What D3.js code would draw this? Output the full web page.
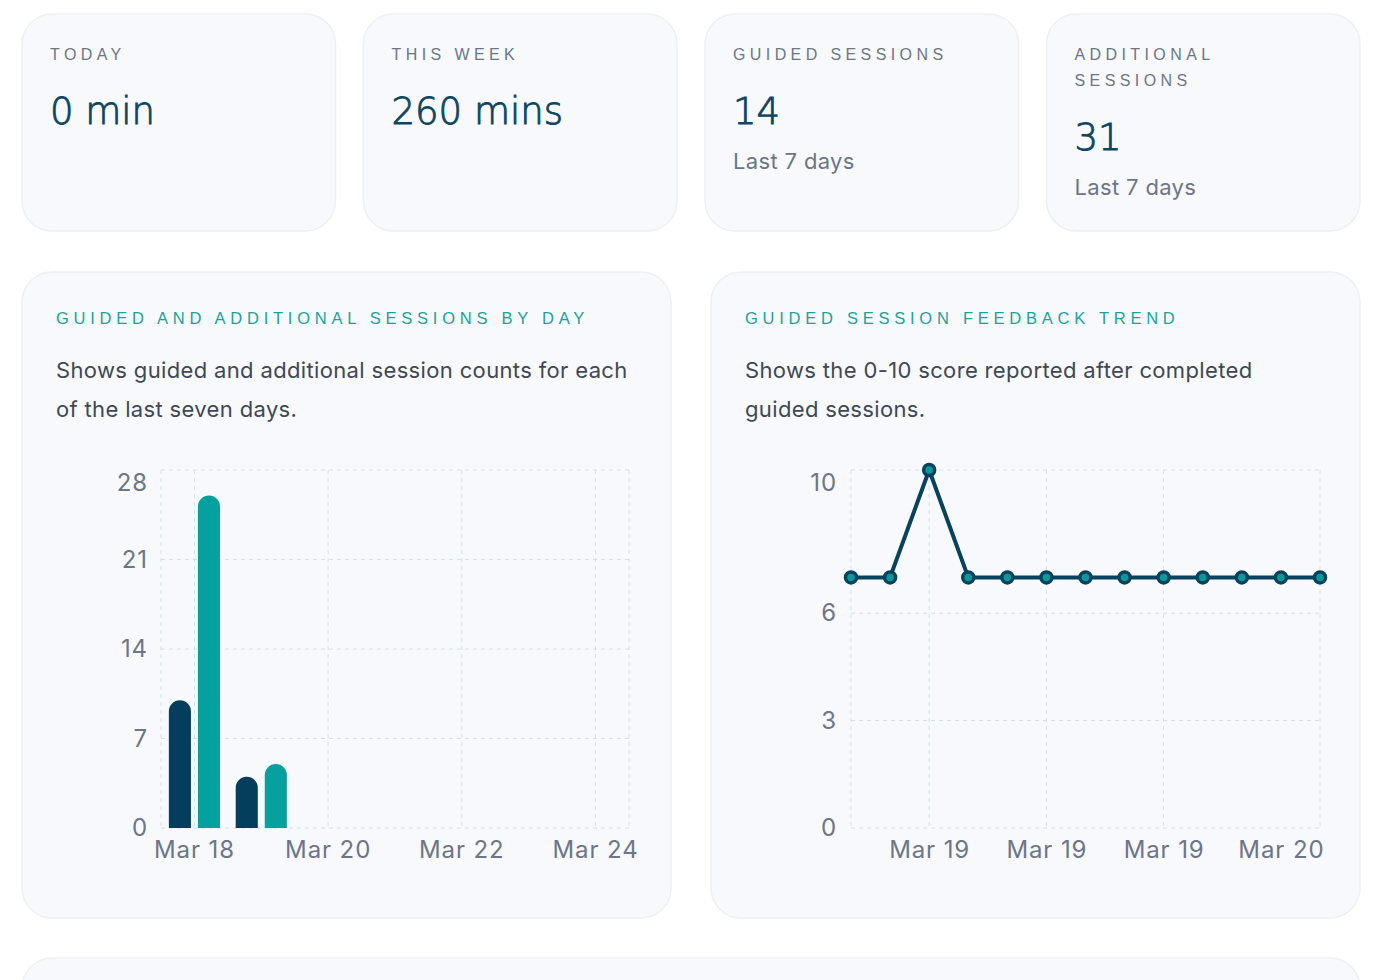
<!DOCTYPE html>
<html>
<head>
<meta charset="utf-8">
<script src="https://cdn.jsdelivr.net/npm/d3@7"></script>
<style>
  body { margin: 0; background: #ffffff; }
  svg { display: block; }
  .cap { font-family: "Liberation Sans", Arial, sans-serif; }
  .body { font-family: Inter, "Noto Sans", sans-serif; }
  .tick text { font-family: Inter, "Noto Sans", sans-serif; font-size: 24px; letter-spacing: 0.9px; fill: #6b7689; }
</style>
</head>
<body>
<div id="page"></div>
<script>
// stat cards
var statLabels = [["TODAY"], ["THIS WEEK"], ["GUIDED SESSIONS"], ["ADDITIONAL", "SESSIONS"]];
var statValues = ["0 min", "260 mins", "14", "31"];
var statNotes = ["", "", "Last 7 days", "Last 7 days"];

// sessions by day
var days = ["Mar 18", "Mar 19", "Mar 20", "Mar 21", "Mar 22", "Mar 23", "Mar 24"];
var seriesNames = ["guided", "additional"];
var guidedByDay = [10, 4, 0, 0, 0, 0, 0];
var additionalByDay = [26, 5, 0, 0, 0, 0, 0];
var dayTickLabels = ["Mar 18", "Mar 20", "Mar 22", "Mar 24"];
var countTicks = [0, 7, 14, 21, 28];

// feedback trend
var feedbackDates = ["Mar 18", "Mar 18", "Mar 19", "Mar 19", "Mar 19", "Mar 19", "Mar 19",
  "Mar 19", "Mar 19", "Mar 19", "Mar 20", "Mar 20", "Mar 20"];
var feedbackScores = [7, 7, 10, 7, 7, 7, 7, 7, 7, 7, 7, 7, 7];
var feedbackTickIdx = [2, 5, 8, 11];
var scoreTicks = [0, 3, 6, 10];

var chartTitles = ["Guided and additional sessions by day", "Guided session feedback trend"];
var chartDescs = [
  ["Shows guided and additional session counts for each", "of the last seven days."],
  ["Shows the 0-10 score reported after completed", "guided sessions."]
];

var navy = "#033f5c";
var teal = "#04a19e";
var gridColor = "#d2e2e5";

var svg = d3.select("#page").append("svg")
  .attr("width", 1400)
  .attr("height", 980);

function card(x, y, w, h) {
  svg.append("rect")
    .attr("x", x).attr("y", y)
    .attr("width", w).attr("height", h)
    .attr("rx", 30).attr("ry", 30)
    .attr("fill", "#f8f9fc")
    .attr("stroke", "#eef0f5")
    .attr("stroke-width", 1.5);
}

// top stat cards
var cardW = 313.5, cardGap = 28;
statValues.forEach(function(v, i) {
  var cx = 22 + i * (cardW + cardGap);
  card(cx, 14, cardW, 217);
  var g = svg.append("g").attr("transform", `translate(${cx + 28}, 0)`);
  statLabels[i].forEach(function(line, j) {
    g.append("text")
      .attr("class", "cap")
      .attr("y", 60 + j * 26)
      .attr("font-size", 16)
      .attr("letter-spacing", "4.4px")
      .attr("fill", "#6b7689")
      .text(line);
  });
  var shift = (statLabels[i].length - 1) * 26;
  // thin face thickened a little with a stroke
  g.append("text")
    .attr("y", 124 + shift)
    .attr("font-family", "'DejaVu Sans', sans-serif")
    .attr("font-weight", 200)
    .attr("font-size", 37)
    .attr("fill", "#0c4664")
    .attr("stroke", "#0c4664")
    .attr("stroke-width", 0.9)
    .text(v);
  if (statNotes[i]) {
    g.append("text")
      .attr("class", "body")
      .attr("y", 169 + shift)
      .attr("font-size", 22)
      .attr("letter-spacing", "0.35px")
      .attr("fill", "#6b7689")
      .text(statNotes[i]);
  }
});

// chart cards
var chartX = [22, 711];
chartX.forEach(function(cx, i) {
  card(cx, 272, 649, 646);
  svg.append("text")
    .attr("class", "cap")
    .attr("x", cx + 34).attr("y", 324)
    .attr("font-size", 16.5)
    .attr("letter-spacing", "4.75px")
    .attr("fill", "#17a39f")
    .text(chartTitles[i].toUpperCase());
  chartDescs[i].forEach(function(line, j) {
    svg.append("text")
      .attr("class", "body")
      .attr("x", cx + 34).attr("y", 378 + j * 39)
      .attr("font-size", 22)
      .attr("letter-spacing", "0.35px")
      .attr("fill", "#3e4857")
      .text(line);
  });
});

// bottom card, cut by the page edge
card(22, 958, 1338, 200);

// ---------- bar chart ----------
var plotTop = 470, plotBottom = 828;

var barG = svg.append("g");
var x0 = d3.scaleBand().domain(days).range([161, 629]);
var x1 = d3.scaleBand().domain(seriesNames).range([0, x0.bandwidth()])
  .paddingInner(0.24).paddingOuter(0.27);
var yCount = d3.scaleLinear().domain([0, 28]).range([plotBottom, plotTop]);

// grid
barG.selectAll(".hgrid").data(countTicks).enter().append("line")
  .attr("x1", 161).attr("x2", 629)
  .attr("y1", d => yCount(d)).attr("y2", d => yCount(d))
  .attr("stroke", gridColor).attr("stroke-dasharray", "4 4");
var barVLines = [161, 629].concat(dayTickLabels.map(d => x0(d) + x0.bandwidth() / 2));
barG.selectAll(".vgrid").data(barVLines).enter().append("line")
  .attr("x1", d => d).attr("x2", d => d)
  .attr("y1", plotTop).attr("y2", plotBottom)
  .attr("stroke", gridColor).attr("stroke-dasharray", "4 4");

function topRounded(x, y, w, h) {
  if (h <= 0) return "";
  var r = Math.min(w / 2, h);
  return `M${x},${y + h}V${y + r}A${r},${r} 0 0 1 ${x + r},${y}` +
    `H${x + w - r}A${r},${r} 0 0 1 ${x + w},${y + r}V${y + h}Z`;
}

var dayData = days.map(function(d, i) {
  return { day: d, guided: guidedByDay[i], additional: additionalByDay[i] };
});

var dayGroups = barG.selectAll(".day").data(dayData).enter().append("g")
  .attr("transform", d => `translate(${x0(d.day)},0)`);
dayGroups.selectAll("path")
  .data(d => seriesNames.map(k => ({ key: k, value: d[k] })))
  .enter().append("path")
  .attr("d", d => topRounded(x1(d.key), yCount(d.value), x1.bandwidth(), plotBottom - yCount(d.value)))
  .attr("fill", d => d.key === "guided" ? navy : teal);

var barYAxis = barG.append("g")
  .attr("transform", "translate(161,0)")
  .call(d3.axisLeft(yCount).tickValues(countTicks).tickSize(0).tickPadding(13));
barYAxis.select(".domain").remove();
barYAxis.selectAll(".tick text").filter(d => d === 28).attr("dy", "0.85em");

var barXAxis = barG.append("g")
  .attr("transform", `translate(0,${plotBottom})`)
  .call(d3.axisBottom(x0).tickValues(dayTickLabels).tickSize(0).tickPadding(13));
barXAxis.select(".domain").remove();

// ---------- line chart ----------
var lineG = svg.append("g");
var xPt = d3.scalePoint().domain(d3.range(feedbackScores.length)).range([851, 1320]);
var yScore = d3.scaleLinear().domain([0, 10]).range([plotBottom, plotTop]);

lineG.selectAll(".hgrid").data(scoreTicks).enter().append("line")
  .attr("x1", 851).attr("x2", 1320)
  .attr("y1", d => yScore(d)).attr("y2", d => yScore(d))
  .attr("stroke", gridColor).attr("stroke-dasharray", "4 4");
var lineVLines = [851, 1320].concat(feedbackTickIdx.slice(0, 3).map(d => xPt(d)));
lineG.selectAll(".vgrid").data(lineVLines).enter().append("line")
  .attr("x1", d => d).attr("x2", d => d)
  .attr("y1", plotTop).attr("y2", plotBottom)
  .attr("stroke", gridColor).attr("stroke-dasharray", "4 4");

var line = d3.line()
  .x((d, i) => xPt(i))
  .y(d => yScore(d));

lineG.append("path")
  .datum(feedbackScores)
  .attr("d", line)
  .attr("fill", "none")
  .attr("stroke", "#07425f")
  .attr("stroke-width", 4)
  .attr("stroke-linejoin", "round");

lineG.selectAll("circle").data(feedbackScores).enter().append("circle")
  .attr("cx", (d, i) => xPt(i))
  .attr("cy", d => yScore(d))
  .attr("r", 5.5)
  .attr("fill", "#08999a")
  .attr("stroke", "#07425f")
  .attr("stroke-width", 3.5);

var lineYAxis = lineG.append("g")
  .attr("transform", "translate(851,0)")
  .call(d3.axisLeft(yScore).tickValues(scoreTicks).tickSize(0).tickPadding(14));
lineYAxis.select(".domain").remove();
lineYAxis.selectAll(".tick text").filter(d => d === 10).attr("dy", "0.85em");

var lineXAxis = lineG.append("g")
  .attr("transform", `translate(0,${plotBottom})`)
  .call(d3.axisBottom(xPt).tickValues(feedbackTickIdx).tickSize(0).tickPadding(13)
    .tickFormat(i => feedbackDates[i]));
lineXAxis.select(".domain").remove();
</script>
</body>
</html>
